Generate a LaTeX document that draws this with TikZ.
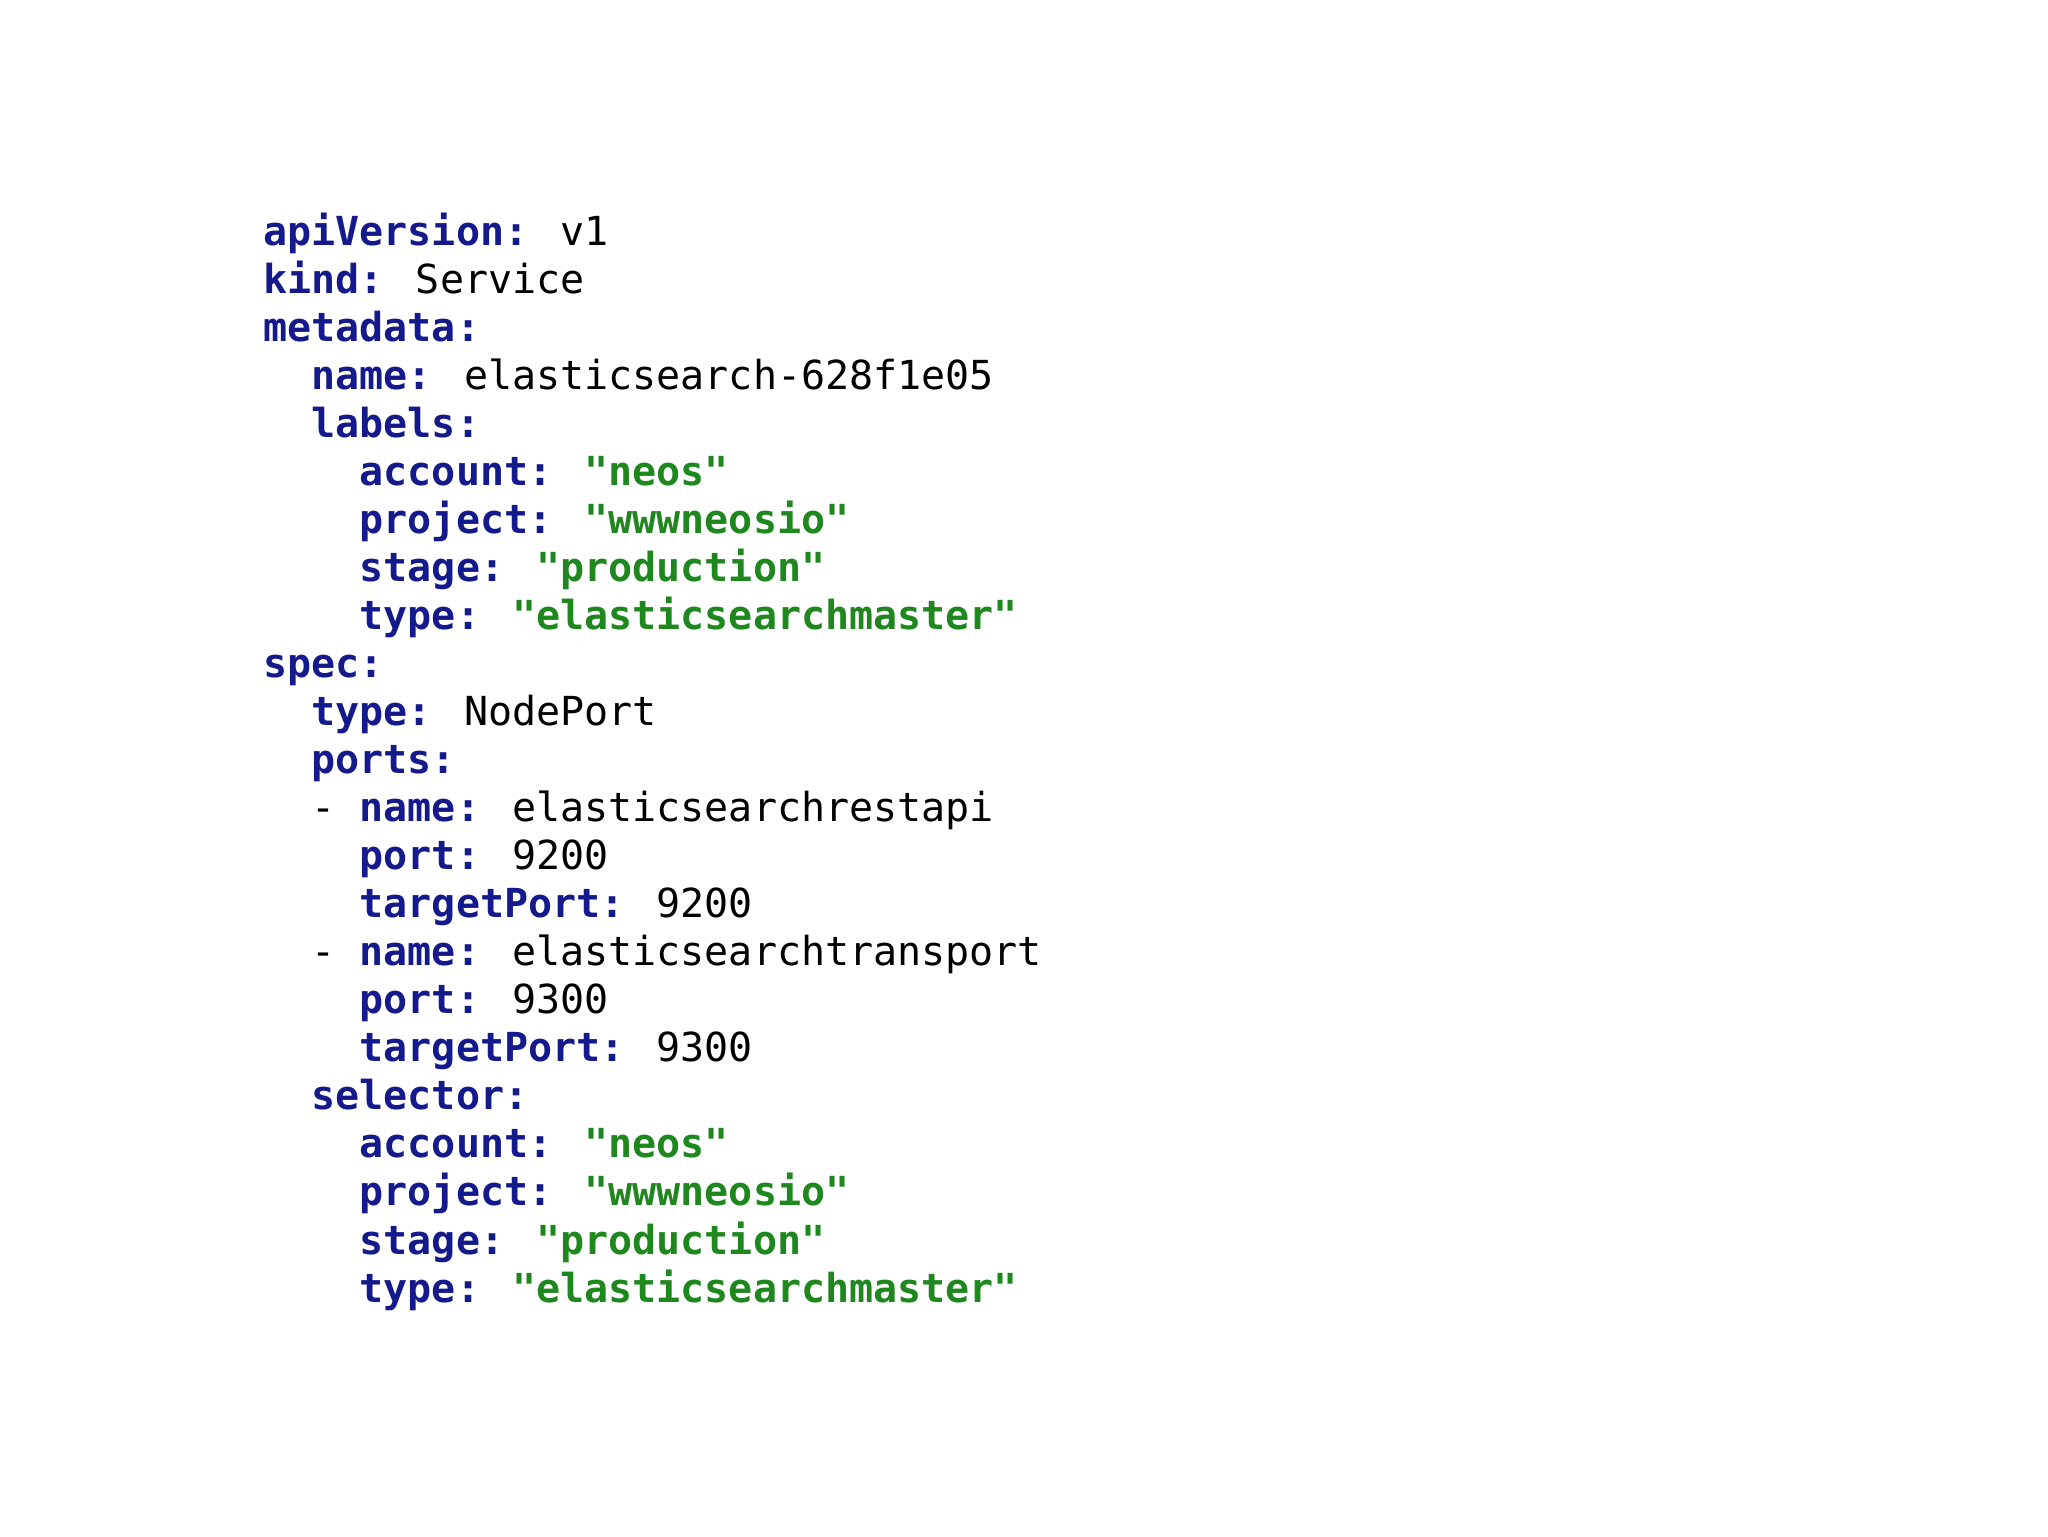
\documentclass[tikz,border=0pt]{standalone}
\usepackage{fontspec}
\newfontfamily\code{DejaVu Sans Mono}
\definecolor{kblue}{RGB}{20,25,140}
\definecolor{sgreen}{RGB}{30,135,30}
\newcommand{\K}[1]{{\bfseries\color{kblue}#1}}
\newcommand{\Sg}[1]{{\bfseries\color{sgreen}#1}}
\begin{document}
\begin{tikzpicture}[x=1pt,y=1pt,ln/.style={anchor=base west,inner sep=0pt,font=\code\fontsize{20}{24}\selectfont}]
\fill[white] (0,0) rectangle (1024,768);
\useasboundingbox (0,0) rectangle (1024,768);
\def\X{131.5}\def\C{12.04}
\node[ln] (l1) at (\X,645) {\K{apiVersion:} v1};
\node[ln] (l2) at (\X,621) {\K{kind:} Service};
\node[ln] (l3) at (\X,597) {\K{metadata:}};
\node[ln] (l4) at (\X+2*\C,573) {\K{name:} elasticsearch-628f1e05};
\node[ln] (l5) at (\X+2*\C,549) {\K{labels:}};
\node[ln] (l6) at (\X+4*\C,525) {\K{account:} \Sg{"neos"}};
\node[ln] (l7) at (\X+4*\C,501) {\K{project:} \Sg{"wwwneosio"}};
\node[ln] (l8) at (\X+4*\C,477) {\K{stage:} \Sg{"production"}};
\node[ln] (l9) at (\X+4*\C,453) {\K{type:} \Sg{"elasticsearchmaster"}};
\node[ln] (l10) at (\X,429) {\K{spec:}};
\node[ln] (l11) at (\X+2*\C,405) {\K{type:} NodePort};
\node[ln] (l12) at (\X+2*\C,381) {\K{ports:}};
\node[ln] (l13) at (\X+2*\C,357) {- \K{name:} elasticsearchrestapi};
\node[ln] (l14) at (\X+4*\C,333) {\K{port:} 9200};
\node[ln] (l15) at (\X+4*\C,309) {\K{targetPort:} 9200};
\node[ln] (l16) at (\X+2*\C,285) {- \K{name:} elasticsearchtransport};
\node[ln] (l17) at (\X+4*\C,261) {\K{port:} 9300};
\node[ln] (l18) at (\X+4*\C,237) {\K{targetPort:} 9300};
\node[ln] (l19) at (\X+2*\C,213) {\K{selector:}};
\node[ln] (l20) at (\X+4*\C,189) {\K{account:} \Sg{"neos"}};
\node[ln] (l21) at (\X+4*\C,165) {\K{project:} \Sg{"wwwneosio"}};
\node[ln] (l22) at (\X+4*\C,141) {\K{stage:} \Sg{"production"}};
\node[ln] (l23) at (\X+4*\C,117) {\K{type:} \Sg{"elasticsearchmaster"}};
\end{tikzpicture}
\end{document}
